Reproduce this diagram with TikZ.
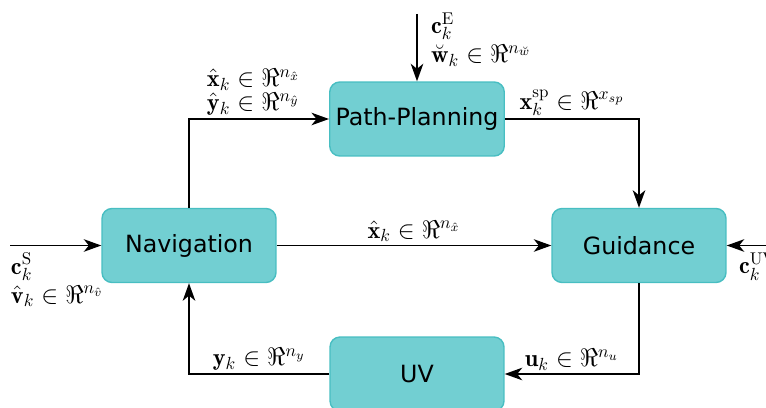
\documentclass[tikz,border=0pt]{standalone}
\usepackage{fontspec}
\setsansfont{DejaVu Sans}
\usetikzlibrary{positioning,arrows.meta}
\definecolor{blockfill}{RGB}{114,207,210}
\definecolor{blockline}{RGB}{72,190,194}
\tikzset{
  block/.style={rectangle, rounded corners=2mm, fill=blockfill, draw=blockline, line width=0.8pt,
    minimum width=3.48cm, minimum height=1.48cm, font={\sffamily\fontsize{13.5}{15}\selectfont}},
  signal/.style={font={\fontsize{13.8}{15.5}\selectfont}, align=left, inner sep=1.5pt},
  flow/.style={-{Stealth[length=3.5mm,width=2.5mm,inset=1mm]}, line width=1.1pt}
}
\begin{document}
\begin{tikzpicture}[x=0.02cm, y=-0.02cm]
  \useasboundingbox (0,0) rectangle (766,408);
  \node [block] (nav) at (189,245.5) {Navigation};
  \node [block] (plan) at (417,119) {Path-Planning};
  \node [block] (guid) at (639,245.5) {Guidance};
  \node [block] (uv) at (417,374) {UV};
  \coordinate (sIn) at (10,245.5);
  \coordinate (eIn) at (417,14);
  \coordinate (uvIn) at (772,245.5);
  % external inputs
  \draw [flow] (sIn) -- (nav);
  \node [signal, anchor=north west] (sLab) at (8,250)
    {$\mathbf{c}_k^{\mathrm{S}}$\\[1pt]$\hat{\mathbf{v}}_k\in\Re^{n_{\hat{v}}}$};
  \draw [flow] (eIn) -- node [signal, right=6pt, pos=0.38] (eLab)
    {$\mathbf{c}_k^{\mathrm{E}}$\\[1pt]$\breve{\mathbf{w}}_k\in\Re^{n_{\breve{w}}}$} (plan);
  \draw [flow] (uvIn) -- (guid);
  \node [signal, anchor=north west] (uvLab) at (736,250) {$\mathbf{c}_k^{\mathrm{UV}}$};
  % loop signals
  \draw [flow] (nav) -- node [signal, above] (xLab) {$\hat{\mathbf{x}}_k\in\Re^{n_{\hat{x}}}$} (guid);
  \draw [flow] (nav.north) |- node [signal, above, pos=0.73] (xyLab)
    {$\hat{\mathbf{x}}_k\in\Re^{n_{\hat{x}}}$\\[-2pt]$\hat{\mathbf{y}}_k\in\Re^{n_{\hat{y}}}$} (plan.west);
  \draw [flow] (plan.east) -| node [signal, above, pos=0.25] (spLab)
    {$\mathbf{x}_k^{\mathrm{sp}}\in\Re^{x_{sp}}$} (guid.north);
  \draw [flow] (guid.south) |- node [signal, above, pos=0.75] (uLab)
    {$\mathbf{u}_k\in\Re^{n_u}$} (uv.east);
  \draw [flow] (uv.west) -| node [signal, above, pos=0.25] (yLab)
    {$\mathbf{y}_k\in\Re^{n_y}$} (nav.south);
\end{tikzpicture}
\end{document}
